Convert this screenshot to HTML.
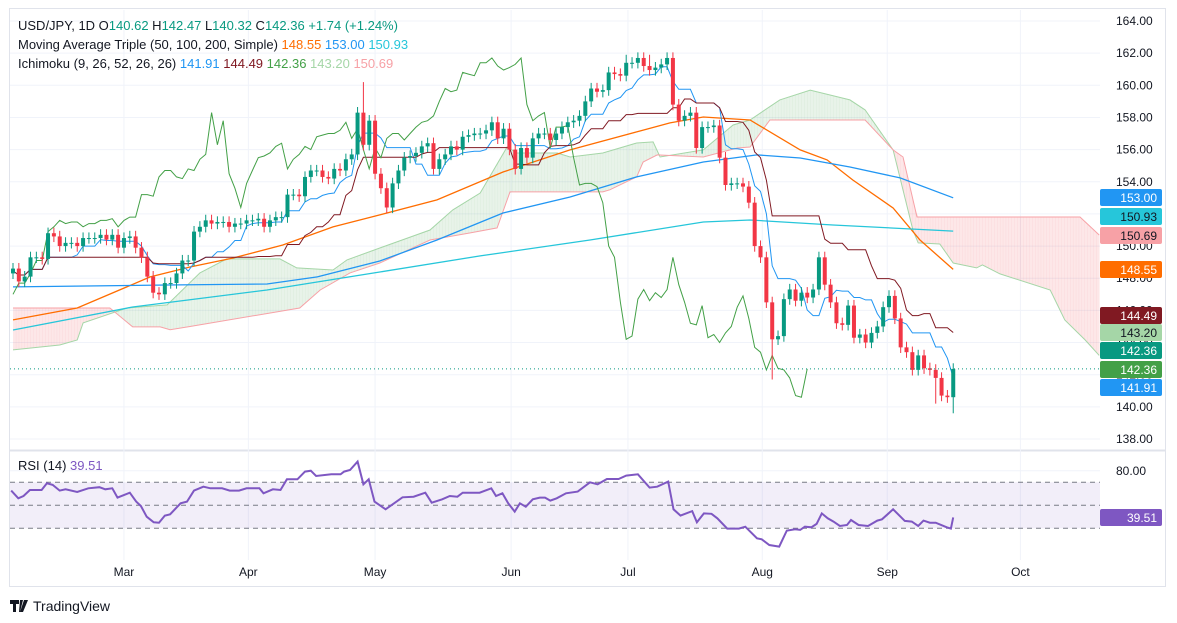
<!DOCTYPE html>
<html><head><meta charset="utf-8"><style>
html,body{margin:0;padding:0;background:#fff;}
svg{display:block;font-family:"Liberation Sans",sans-serif;}
</style></head><body>
<svg id="chart" width="1177" height="623" viewBox="0 0 1177 623" xmlns="http://www.w3.org/2000/svg">
<rect x="0" y="0" width="1177" height="623" fill="#fff"/>
<rect x="9.5" y="8.5" width="1156" height="578" fill="none" stroke="#e0e3eb"/>
<line x1="10" y1="450.5" x2="1165" y2="450.5" stroke="#e0e3eb" stroke-width="2"/>
<g id="grid"></g><g id="cloud"></g><g id="lines"></g><g id="candles"></g><g id="rsi"></g><g id="axes"></g>
<g font-size="13">
<text x="18" y="30" fill="#131722">USD/JPY, 1D  O<tspan fill="#089981">140.62</tspan>  H<tspan fill="#089981">142.47</tspan>  L<tspan fill="#089981">140.32</tspan>  C<tspan fill="#089981">142.36</tspan>  <tspan fill="#089981">+1.74 (+1.24%)</tspan></text>
<text x="18" y="49" fill="#131722">Moving Average Triple (50, 100, 200, Simple)  <tspan fill="#ff6d00">148.55</tspan>  <tspan fill="#2196f3">153.00</tspan>  <tspan fill="#26c6da">150.93</tspan></text>
<text x="18" y="68" fill="#131722">Ichimoku (9, 26, 52, 26, 26)  <tspan fill="#2196f3">141.91</tspan>  <tspan fill="#801922">144.49</tspan>  <tspan fill="#43a047">142.36</tspan>  <tspan fill="#a5d6a7">143.20</tspan>  <tspan fill="#f7a1a6">150.69</tspan></text>
<text x="18" y="470" fill="#131722">RSI (14)  <tspan fill="#7e57c2">39.51</tspan></text>
</g>
<g>
<path d="M10 600h9v4h-3v8h-3v-8h-3z M20 600h3l-3 12h-1z M24 600h4l-5 12h-3z" fill="#131722"/>
<text x="33" y="611" font-size="14" fill="#131722">TradingView</text>
</g>
</svg>
<script>
const closes=[148.6,147.8,148.1,149.3,149.3,149.2,150.8,150.6,150.0,150.2,
150.2,150.0,150.5,150.5,150.5,150.7,150.4,150.7,149.9,150.5,
150.6,149.9,149.3,148.1,147.1,147.0,147.7,147.7,148.3,149.1,
149.1,150.9,151.2,151.6,151.4,151.5,151.5,151.2,151.4,151.4,
151.6,151.6,151.7,151.2,151.6,151.8,151.8,153.2,153.2,153.1,
154.3,154.7,154.7,154.3,154.2,154.8,154.7,155.4,155.7,158.3,
156.3,157.8,154.5,
153.6,152.4,153.9,154.7,155.5,155.6,155.8,156.2,156.4,154.8,
155.4,155.7,156.2,156.0,156.8,156.9,157.0,157.0,157.2,157.7,
156.7,157.3,156.0,154.8,156.1,155.5,156.7,157.0,157.0,156.6,
157.0,157.4,157.7,157.8,158.1,159.0,159.8,159.6,159.7,160.8,
160.7,160.6,161.4,161.4,161.7,161.2,160.95,161.1,161.3,161.7,
158.8,157.8,158.1,158.3,156.1,157.4,157.4,157.5,155.5,153.8,
153.9,153.9,153.7,152.7,
150.0,149.3,146.5,144.2,144.4,146.7,147.3,146.6,147.1,146.8,
147.3,149.3,147.6,146.5,145.2,145.1,146.3,144.3,144.5,144.0,
144.6,145.0,146.2,146.9,145.5,143.7,143.4,142.3,143.2,142.4,
142.3,141.8,140.7,140.6,142.36];
const firstOpen=148.3;
const highOverride={60:160.2,105:161.9,109:161.9};
const lowOverride={130:141.7,161:139.6,158:140.2};
const ma50Idx=[0,11,23.5,30.3,37.7,46.2,54.8,62.8,72.6,83.9,95.4,106.8,112.5,118.2,126.2,134.8,139.4,143.8,150.7,155.3,161];
const ma50Val=[145.41,146.15,148.08,148.70,149.26,150.07,151.19,151.94,152.87,154.61,155.98,157.1,157.66,158.03,157.84,155.98,155.36,154.11,152.37,150.38,148.55];
const ma100Idx=[0,26.4,43.5,52.1,62.8,72.6,83.9,95.4,106.8,118.2,127.4,134.8,143.3,151.9,161];
const ma100Val=[147.46,147.58,147.64,148.08,149.07,150.38,152.06,153.05,154.3,155.23,155.67,155.48,154.92,154.24,153.0];
const ma200Idx=[0,20.5,43.5,62.8,80,98.8,118.2,126.2,140.4,161];
const ma200Val=[144.78,146.21,147.27,148.39,149.39,150.38,151.5,151.62,151.31,150.93];
const spanAIdx=[0,8,11,12,19.5,26.4,32,36.6,45.7,48.6,54.8,57.2,62.8,71.4,75.3,80,84.6,86.3,93.2,95.4,101,106.8,109.6,110.8,118.2,123.3,126.2,131.3,136.5,143.3,145.9,150.7,154.1,155,158.7,161,165,166,169,177.6,180.1,183.6,186];
const spanAVal=[143.54,143.85,144.16,145.22,146.15,146.34,148.33,149.2,149.2,148.64,148.51,149.14,149.88,151.0,152.25,153.3,156.16,155.79,155.79,155.54,155.79,156.41,156.48,155.54,155.98,157.53,157.84,159.09,159.7,159.09,158.47,155.98,151.0,150.2,150.13,148.95,148.64,148.83,148.27,147.27,145.4,144.16,143.2];
const spanBIdx=[0,16.6,20.5,25.2,26.9,30.3,49.1,52.6,57.7,62.8,71.4,78.3,82.9,85.1,101,102.2,106.8,107.9,110.3,118.2,124,126.2,129.6,145.9,150.7,152.4,154.8,182.7,186];
const spanBVal=[146.15,146.15,144.97,144.97,144.8,145.0,146.15,147.27,148.33,148.95,150.38,150.82,151.13,153.37,153.37,153.5,154.3,155.23,155.67,155.54,156.1,156.16,157.84,157.84,155.98,155.54,151.81,151.81,150.69];
const rsiIdx=[-0.3,0.9,1.8,2.9,4.9,5.8,6.8,8,9,11,12.9,14.8,15.8,17,17.9,20,21.1,21.9,22.9,24.1,25,26,26.9,28.7,29.8,31,32.6,33.8,35.8,37.1,38.7,40,42.2,42.9,44.5,45.8,46.9,48.7,50,51,51.9,54.5,56.1,56.7,57.7,59,60,60.9,61.9,63.8,65.1,66.7,68.6,70.6,71.7,73.5,74.8,76.1,77,79.9,81.9,82.7,83.8,84.8,85.9,86.8,87.8,89,90.2,91.1,92,93.1,94.7,96.7,98.8,100.1,101.7,103.7,105,107,109,110.3,112.2,113.1,114.3,116.3,117.1,118.3,119.6,120.6,122.3,124.3,125.4,127.4,128.2,129.5,131.2,132.5,133.9,134.8,135.6,136.7,137.6,138.5,139.5,140.5,141.6,142.8,143.5,144.8,146.4,148,148.8,150.7,152.7,153.9,155,155.9,157,158,159.9,160.6,161];
const rsiVal=[62.8,56.1,58.1,63.3,63.3,69.1,67.7,62.8,63.9,61.6,64.8,65.7,63.9,64.8,56.7,61,53.2,49.4,40.1,35.2,34.9,41,42.2,51.7,53.2,62.8,66.2,64.8,64.8,62.8,62.8,64.8,64.8,60.4,63.9,63.3,72.6,72.6,79.3,80.1,75.5,77,77,79.3,80.7,88,68.3,72.6,53.2,46.5,51.2,57,57.5,61,52.3,55.2,58.1,57.5,61,61,64.8,58.1,60.4,51.7,44.5,51.7,48.8,55.2,56.7,56.7,54.1,56.1,60.4,61.9,70,68.3,72.9,72.9,75.8,77,65.4,66.2,70.6,46.5,41,45,35.2,43,42.6,38.7,29.7,29.7,31.4,21.3,20.4,15.5,14.1,28,29.1,28.6,31.4,30.9,33.8,43,38.7,35.8,32,32.9,37.2,32.9,32,36.7,37.8,46.5,36.4,35.8,32,36.7,34.9,34.9,30.9,29.7,39.51];
const priceTicks=[164,162,160,158,156,154,152,150,148,146,144,142,140,138];
const monthLabels=["Mar","Apr","May","Jun","Jul","Aug","Sep","Oct"];
const monthIdx=[19,40.3,62,85.3,105.3,128.3,149.7,172.5];

const NS="http://www.w3.org/2000/svg";
const xI=i=>13+i*5.84;
const yP=p=>21+(164-p)*16.077;
const yR=r=>505.3-(r-50)*1.15;
function mk(tag,attrs,parent){const e=document.createElementNS(NS,tag);for(const k in attrs)e.setAttribute(k,attrs[k]);document.getElementById(parent).appendChild(e);return e;}
function interp(ix,vals,t){if(t<=ix[0])return vals[0];for(let k=1;k<ix.length;k++){if(t<=ix[k]){const f=(t-ix[k-1])/(ix[k]-ix[k-1]);return vals[k-1]+f*(vals[k]-vals[k-1]);}}return vals[vals.length-1];}
function pathOf(ix,vals,yf){return ix.map((v,k)=>(k?'L':'M')+xI(v).toFixed(1)+' '+yf(vals[k]).toFixed(1)).join(' ');}

// grid
priceTicks.forEach(p=>{const g=mk('line',{x1:10,x2:1100,y1:yP(p),y2:yP(p),stroke:'#f0f3fa'},'grid');
});
monthIdx.forEach(m=>{const g=mk('line',{x1:xI(m),x2:xI(m),y1:10,y2:560,stroke:'#f0f3fa'},'grid');
});
[470.8].forEach(y=>{mk('line',{x1:10,x2:1100,y1:y,y2:y,stroke:'#f0f3fa'},'grid');});

// cloud
for(let t=0;t<186;t+=0.5){const a0=interp(spanAIdx,spanAVal,t),a1=interp(spanAIdx,spanAVal,t+0.5),b0=interp(spanBIdx,spanBVal,t),b1=interp(spanBIdx,spanBVal,t+0.5);
const up=(a0+a1)>=(b0+b1);
const q=mk('polygon',{points:`${xI(t)},${yP(a0)} ${xI(t+0.5)+0.3},${yP(a1)} ${xI(t+0.5)+0.3},${yP(b1)} ${xI(t)},${yP(b0)}`,fill:up?'rgba(67,160,71,0.12)':'rgba(242,54,69,0.12)'},'cloud');

}
const sa=mk('path',{d:pathOf(spanAIdx,spanAVal,yP),fill:'none',stroke:'#a5d6a7','stroke-width':1},'cloud');

const sb=mk('path',{d:pathOf(spanBIdx,spanBVal,yP),fill:'none',stroke:'#f7a1a6','stroke-width':1},'cloud');


// OHLC
const opens=closes.map((c,i)=>i?closes[i-1]:firstOpen);
const highs=closes.map((c,i)=>highOverride[i]!==undefined?highOverride[i]:Math.max(c,opens[i])+0.35);
const lows=closes.map((c,i)=>lowOverride[i]!==undefined?lowOverride[i]:Math.min(c,opens[i])-0.35);

// MAs
[[ma50Idx,ma50Val,'#ff6d00','ma-50'],[ma100Idx,ma100Val,'#2196f3','ma-100'],[ma200Idx,ma200Val,'#26c6da','ma-200']].forEach(m=>{
const l=mk('path',{d:pathOf(m[0],m[1],yP),fill:'none',stroke:m[2],'stroke-width':1.3},'lines');
});

// tenkan/kijun/chikou
function mid(n){const out=[];for(let i=0;i<closes.length;i++){const s=Math.max(0,i-n+1);let h=-1e9,lo=1e9;for(let k=s;k<=i;k++){h=Math.max(h,highs[k]);lo=Math.min(lo,lows[k]);}out.push((h+lo)/2);}return out;}
const tenkan=mid(9),kijun=mid(26);
const idxAll=closes.map((c,i)=>i);
const tk=mk('path',{d:pathOf(idxAll,tenkan,yP),fill:'none',stroke:'#2196f3','stroke-width':1},'lines');

const kj=mk('path',{d:pathOf(idxAll,kijun,yP),fill:'none',stroke:'#801922','stroke-width':1},'lines');

const chIdx=idxAll.slice(25).map(i=>i-25),chVal=closes.slice(25);
const ch=mk('path',{d:pathOf(chIdx,chVal,yP),fill:'none',stroke:'#43a047','stroke-width':1},'lines');


// candles
closes.forEach((c,i)=>{const o=opens[i],col=c>=o?'#089981':'#f23645',x=xI(i);
const w=mk('line',{x1:x,x2:x,y1:yP(highs[i]),y2:yP(lows[i]),stroke:col,'stroke-width':1},'candles');

const top=yP(Math.max(o,c)),h=Math.max(1,yP(Math.min(o,c))-top);
const b=mk('rect',{x:x-2,y:top,width:4,height:h,fill:col},'candles');
});
const last=closes[closes.length-1];
const dl=mk('line',{x1:10,x2:1100,y1:yP(last),y2:yP(last),stroke:'#089981','stroke-dasharray':'1 3'},'candles');


// RSI
const band=mk('rect',{x:10,y:yR(70),width:1090,height:yR(30)-yR(70),fill:'rgba(126,87,194,0.1)'},'rsi');

[70,50,30].forEach(r=>{const l=mk('line',{x1:10,x2:1100,y1:yR(r),y2:yR(r),stroke:'#787b86','stroke-dasharray':'5 4'},'rsi');
});
const rl=mk('path',{d:pathOf(rsiIdx,rsiVal,yR),fill:'none',stroke:'#7e57c2','stroke-width':2},'rsi');


// axes
priceTicks.forEach(p=>{const t=mk('text',{x:1116,y:yP(p)+4,'font-size':12,fill:'#131722'},'axes');t.textContent=p.toFixed(2);
});
const r80=mk('text',{x:1116,y:yR(80)+4,'font-size':12,fill:'#131722'},'axes');r80.textContent='80.00';

monthLabels.forEach((m,k)=>{const t=mk('text',{x:xI(monthIdx[k]),y:576,'font-size':12,fill:'#131722','text-anchor':'middle'},'axes');t.textContent=m;
});
const tags=[['153.00',189,'#2196f3','#fff'],['150.93',208,'#26c6da','#131722'],['150.69',227,'#f7a1a6','#131722'],['148.55',261,'#ff6d00','#fff'],['144.49',307,'#801922','#fff'],['143.20',324,'#a5d6a7','#131722'],['142.36',342,'#089981','#fff'],['142.36',361,'#43a047','#fff'],['141.91',379,'#2196f3','#fff'],['39.51',509,'#7e57c2','#fff']];
tags.forEach(tg=>{const r=mk('rect',{x:1100,y:tg[1],width:62,height:17,rx:2,fill:tg[2]},'axes');

const t=mk('text',{x:1157,y:tg[1]+13,'font-size':12,fill:tg[3],'text-anchor':'end'},'axes');t.textContent=tg[0];
});
</script>
</body></html>
